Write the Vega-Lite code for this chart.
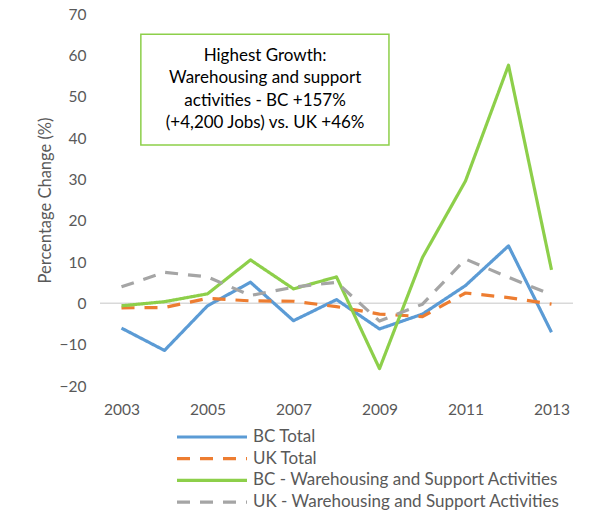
{
  "$schema": "https://vega.github.io/schema/vega-lite/v6.json",
  "width": 473,
  "height": 372,
  "autosize": {"type": "none"},
  "padding": {"left": 100, "top": 14, "right": 17, "bottom": 134},
  "background": "white",
  "config": {
    "view": {"stroke": null},
    "font": "Lato",
    "axis": {"labelColor": "#595959", "titleColor": "#595959", "labelFont": "Lato", "titleFont": "Lato"}
  },
  "datasets": {
    "series": [
      {"year": 2003, "value": -6.0, "series": "BC Total"},
      {"year": 2004, "value": -11.4, "series": "BC Total"},
      {"year": 2005, "value": -0.6, "series": "BC Total"},
      {"year": 2006, "value": 5.1, "series": "BC Total"},
      {"year": 2007, "value": -4.2, "series": "BC Total"},
      {"year": 2008, "value": 0.9, "series": "BC Total"},
      {"year": 2009, "value": -6.2, "series": "BC Total"},
      {"year": 2010, "value": -2.6, "series": "BC Total"},
      {"year": 2011, "value": 4.3, "series": "BC Total"},
      {"year": 2012, "value": 13.9, "series": "BC Total"},
      {"year": 2013, "value": -7.0, "series": "BC Total"},
      {"year": 2003, "value": -1.1, "series": "UK Total"},
      {"year": 2004, "value": -1.0, "series": "UK Total"},
      {"year": 2005, "value": 1.2, "series": "UK Total"},
      {"year": 2006, "value": 0.6, "series": "UK Total"},
      {"year": 2007, "value": 0.5, "series": "UK Total"},
      {"year": 2008, "value": -0.8, "series": "UK Total"},
      {"year": 2009, "value": -2.6, "series": "UK Total"},
      {"year": 2010, "value": -3.2, "series": "UK Total"},
      {"year": 2011, "value": 2.5, "series": "UK Total"},
      {"year": 2012, "value": 1.4, "series": "UK Total"},
      {"year": 2013, "value": -0.2, "series": "UK Total"},
      {"year": 2003, "value": -0.6, "series": "BC - Warehousing and Support Activities"},
      {"year": 2004, "value": 0.4, "series": "BC - Warehousing and Support Activities"},
      {"year": 2005, "value": 2.3, "series": "BC - Warehousing and Support Activities"},
      {"year": 2006, "value": 10.5, "series": "BC - Warehousing and Support Activities"},
      {"year": 2007, "value": 3.5, "series": "BC - Warehousing and Support Activities"},
      {"year": 2008, "value": 6.4, "series": "BC - Warehousing and Support Activities"},
      {"year": 2009, "value": -15.8, "series": "BC - Warehousing and Support Activities"},
      {"year": 2010, "value": 11.1, "series": "BC - Warehousing and Support Activities"},
      {"year": 2011, "value": 29.6, "series": "BC - Warehousing and Support Activities"},
      {"year": 2012, "value": 57.6, "series": "BC - Warehousing and Support Activities"},
      {"year": 2013, "value": 8.1, "series": "BC - Warehousing and Support Activities"},
      {"year": 2003, "value": 4.0, "series": "UK - Warehousing and Support Activities"},
      {"year": 2004, "value": 7.5, "series": "UK - Warehousing and Support Activities"},
      {"year": 2005, "value": 6.4, "series": "UK - Warehousing and Support Activities"},
      {"year": 2006, "value": 1.9, "series": "UK - Warehousing and Support Activities"},
      {"year": 2007, "value": 3.9, "series": "UK - Warehousing and Support Activities"},
      {"year": 2008, "value": 5.1, "series": "UK - Warehousing and Support Activities"},
      {"year": 2009, "value": -4.3, "series": "UK - Warehousing and Support Activities"},
      {"year": 2010, "value": -0.2, "series": "UK - Warehousing and Support Activities"},
      {"year": 2011, "value": 10.7, "series": "UK - Warehousing and Support Activities"},
      {"year": 2012, "value": 6.3, "series": "UK - Warehousing and Support Activities"},
      {"year": 2013, "value": 2.1, "series": "UK - Warehousing and Support Activities"}
    ],
    "box": [{"x1": 2003.45, "x2": 2009.22, "y1": 38.3, "y2": 65.1}],
    "notes": [
      {"x": 2006.34, "y": 59.8, "text": "Highest Growth:"},
      {"x": 2006.34, "y": 54.4, "text": "Warehousing and support"},
      {"x": 2006.34, "y": 49.0, "text": "activities - BC +157%"},
      {"x": 2006.34, "y": 43.6, "text": "(+4,200 Jobs) vs. UK +46%"}
    ]
  },
  "layer": [
    {
      "data": {"values": [{"v": 0}]},
      "mark": {"type": "rule", "color": "#d9d9d9", "strokeWidth": 1.5},
      "encoding": {"y": {"field": "v", "type": "quantitative", "scale": {"domain": [-20, 70]}}}
    },
    {
      "data": {"name": "series"},
      "mark": {"type": "line", "strokeWidth": 3.2, "strokeCap": "butt", "strokeJoin": "round"},
      "encoding": {
        "x": {
          "field": "year", "type": "quantitative",
          "scale": {"domain": [2002.5, 2013.5], "nice": false, "zero": false},
          "axis": {"values": [2003, 2005, 2007, 2009, 2011, 2013], "format": "d", "title": null, "domain": false, "ticks": false, "grid": false, "labelFontSize": 15.5, "labelPadding": 16}
        },
        "y": {
          "field": "value", "type": "quantitative",
          "scale": {"domain": [-20, 70], "nice": false},
          "axis": {"values": [-20, -10, 0, 10, 20, 30, 40, 50, 60, 70], "title": "Percentage Change (%)", "titleFontSize": 16.5, "titleFontWeight": "normal", "titlePadding": 6, "domain": false, "ticks": false, "grid": false, "labelFontSize": 15.5, "labelPadding": 14}
        },
        "color": {
          "field": "series", "type": "nominal",
          "scale": {
            "domain": ["BC Total", "UK Total", "BC - Warehousing and Support Activities", "UK - Warehousing and Support Activities"],
            "range": ["#5B9BD5", "#ED7D31", "#8DCF4A", "#A5A5A5"]
          },
          "legend": {
            "title": null, "orient": "none", "legendX": 102, "legendY": 413,
            "symbolType": "M-4.375,0H4.375", "symbolSize": 256, "symbolStrokeWidth": 3.2,
            "labelFontSize": 17, "labelColor": "#595959", "labelOffset": 31, "rowPadding": 3.7, "labelLimit": 400
          }
        },
        "strokeDash": {
          "field": "series", "type": "nominal",
          "scale": {
            "domain": ["BC Total", "UK Total", "BC - Warehousing and Support Activities", "UK - Warehousing and Support Activities"],
            "range": [[1, 0], [13, 10], [1, 0], [13, 10]]
          },
          "legend": {
            "title": null, "orient": "none", "legendX": 102, "legendY": 413,
            "symbolType": "M-4.375,0H4.375", "symbolSize": 256, "symbolStrokeWidth": 3.2,
            "labelFontSize": 17, "labelColor": "#595959", "labelOffset": 31, "rowPadding": 3.7, "labelLimit": 400
          }
        }
      }
    },
    {
      "data": {"name": "box"},
      "mark": {"type": "rect", "fill": "white", "stroke": "#8DCF4A", "strokeWidth": 1.5},
      "encoding": {
        "x": {"field": "x1", "type": "quantitative"},
        "x2": {"field": "x2"},
        "y": {"field": "y1", "type": "quantitative"},
        "y2": {"field": "y2"}
      }
    },
    {
      "data": {"name": "notes"},
      "mark": {"type": "text", "fontSize": 17, "color": "#000000", "align": "center", "baseline": "middle", "font": "Lato"},
      "encoding": {
        "x": {"field": "x", "type": "quantitative"},
        "y": {"field": "y", "type": "quantitative"},
        "text": {"field": "text"}
      }
    }
  ]
}
